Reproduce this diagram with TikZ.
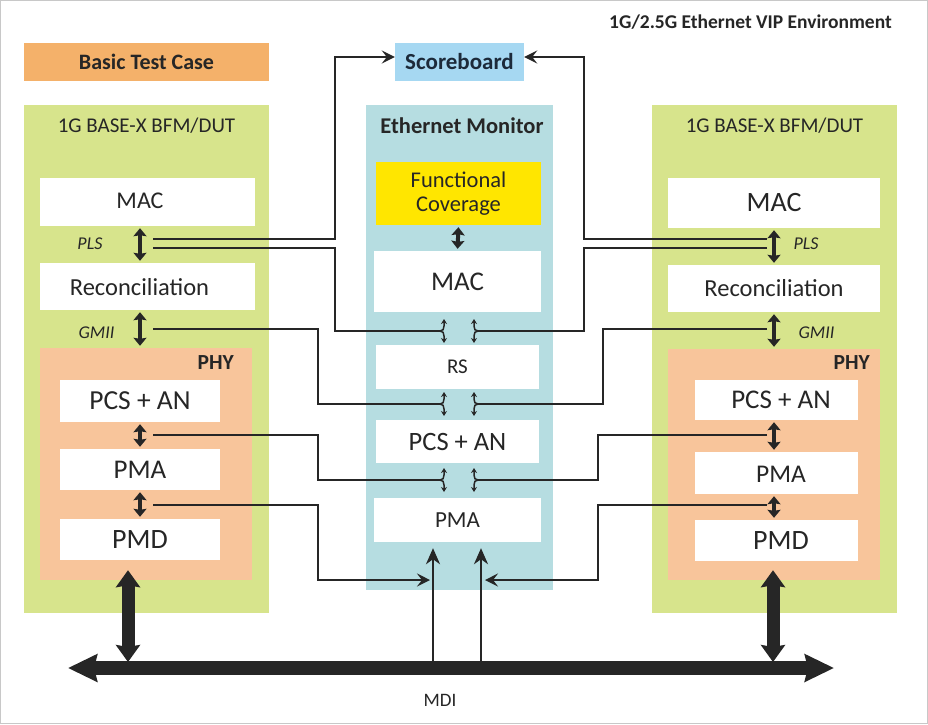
\documentclass[tikz,border=0pt]{standalone}
\usepackage{fontspec}
\setmainfont{Carlito}
\usepackage{xcolor}
\usetikzlibrary{arrows.meta,positioning}

\definecolor{ink}{RGB}{38,38,38}
\definecolor{navyink}{RGB}{28,42,58}
\definecolor{framegray}{RGB}{200,200,200}
\definecolor{bfmgreen}{RGB}{215,228,140}
\definecolor{phyorange}{RGB}{248,197,155}
\definecolor{testorange}{RGB}{244,177,106}
\definecolor{scoreblue}{RGB}{166,216,242}
\definecolor{monteal}{RGB}{182,221,225}
\definecolor{covyellow}{RGB}{255,230,0}

\newcommand{\pxfont}[1]{\fontsize{#1}{#1}\selectfont}

\tikzset{
  >=Stealth,
  panel/.style={inner sep=0pt, text=ink},
  block/.style={panel, fill=white},
  link/.style={draw=ink, line width=2pt},
  linkarrow/.style={link, -{Stealth[length=13pt,width=13pt,inset=5pt]}},
  feed/.style={draw=ink, line width=2pt, -{Stealth[length=16pt,width=14pt,inset=5pt]}},
  stack/.style={draw=ink, line width=4pt,
    {Stealth[length=8pt,width=13pt,inset=1pt]}-{Stealth[length=8pt,width=13pt,inset=1pt]},
    shorten <=2pt, shorten >=2pt},
  split/.style={draw=ink, line width=1.5pt, -{Stealth[length=5pt,width=6pt]}},
  phylink/.style={draw=ink, line width=13pt,
    {Stealth[length=17pt,width=24pt,inset=2pt]}-{Stealth[length=17pt,width=24pt,inset=2pt]}},
  bus/.style={draw=ink, line width=14pt,
    {Stealth[length=29pt,width=27pt,inset=3pt]}-{Stealth[length=29pt,width=27pt,inset=3pt]}},
  splitleft/.pic={
    \draw[split] (0,0) .. controls (3,0) and (4,-2) .. (4,-5) -- (4,-12);
    \draw[split] (0,0) .. controls (3,0) and (4,2) .. (4,5) -- (4,12);
  },
  splitright/.pic={
    \draw[split] (0,0) .. controls (-3,0) and (-4,-2) .. (-4,-5) -- (-4,-12);
    \draw[split] (0,0) .. controls (-3,0) and (-4,2) .. (-4,5) -- (-4,12);
  }
}

\begin{document}
\begin{tikzpicture}[x=1pt, y=-1pt]
  \useasboundingbox (0,0) rectangle (928,724);
  \draw[framegray, line width=1.2pt] (0.6,0.6) rectangle (927.4,723.4);

  \node[panel, anchor=east, font=\bfseries\pxfont{19.5}] (title) at (892,22) {1G/2.5G Ethernet VIP Environment};
  \node[panel, fill=testorange, minimum width=245pt, minimum height=38pt, font=\bfseries\pxfont{22}] (test) at (146.5,62) {Basic Test Case};
  \node[panel, fill=scoreblue, text=navyink, minimum width=129pt, minimum height=38pt, font=\bfseries\pxfont{23}] (score) at (459.5,62) {Scoreboard};

  % left BFM/DUT
  \node[panel, fill=bfmgreen, minimum width=245pt, minimum height=508pt] (lbfm) at (146.5,359) {};
  \node[panel, font=\pxfont{21}] (lbfmname) at (146.5,126) {1G BASE-X BFM/DUT};
  \node[block, minimum width=215pt, minimum height=48pt] (lmac) at (147.5,202) {};
  \node[panel, font=\pxfont{24}] (lmacname) at (140,201) {MAC};
  \node[block, minimum width=215pt, minimum height=47pt] (lrec) at (147.5,286.5) {};
  \node[panel, font=\pxfont{24.5}] (lrecname) at (139.5,287) {Reconciliation};
  \node[panel, fill=phyorange, minimum width=212pt, minimum height=232pt] (lphy) at (146,464) {};
  \node[panel, anchor=east, font=\bfseries\pxfont{21.5}] (lphyname) at (234,363) {PHY};
  \node[block, minimum width=160pt, minimum height=42pt, font=\pxfont{27.5}] (lpcs) at (140,401) {PCS + AN};
  \node[block, minimum width=160pt, minimum height=41pt, font=\pxfont{27}] (lpma) at (140,469.5) {PMA};
  \node[block, minimum width=160pt, minimum height=41pt, font=\pxfont{28}] (lpmd) at (140,539.5) {PMD};
  \node[panel, font=\itshape\pxfont{18}] (lpls) at (90,244) {PLS};
  \node[panel, font=\itshape\pxfont{18}] (lgmiiname) at (96.5,333) {GMII};

  % right BFM/DUT
  \node[panel, fill=bfmgreen, minimum width=245pt, minimum height=508pt] (rbfm) at (774.5,359) {};
  \node[panel, font=\pxfont{21}] (rbfmname) at (774.5,126) {1G BASE-X BFM/DUT};
  \node[block, minimum width=212pt, minimum height=50pt, font=\pxfont{28}] (rmac) at (774,203) {MAC};
  \node[block, minimum width=212pt, minimum height=47pt, font=\pxfont{24.5}] (rrec) at (774,288.5) {Reconciliation};
  \node[panel, fill=phyorange, minimum width=212pt, minimum height=231pt] (rphy) at (774,464.5) {};
  \node[panel, anchor=east, font=\bfseries\pxfont{21.5}] (rphyname) at (870,363) {PHY};
  \node[block, minimum width=163pt, minimum height=40pt] (rpcs) at (776.5,400) {};
  \node[panel, font=\pxfont{27}] (rpcsname) at (781,400) {PCS + AN};
  \node[block, minimum width=163pt, minimum height=42pt] (rpma) at (776.5,473) {};
  \node[panel, font=\pxfont{25.5}] (rpmaname) at (781,474) {PMA};
  \node[block, minimum width=163pt, minimum height=41pt] (rpmd) at (776.5,540.5) {};
  \node[panel, font=\pxfont{28}] (rpmdname) at (781,541) {PMD};
  \node[panel, font=\itshape\pxfont{18}] (rpls) at (806,244) {PLS};
  \node[panel, font=\itshape\pxfont{18}] (rgmiiname) at (816.5,333) {GMII};

  % monitor
  \node[panel, fill=monteal, minimum width=187pt, minimum height=485pt] (mon) at (459.5,347.5) {};
  \node[panel, font=\bfseries\pxfont{22.5}] (monname) at (462,126) {Ethernet Monitor};
  \node[block, fill=covyellow, minimum width=165pt, minimum height=63pt, align=center, font=\pxfont{22.5}] (mfc) at (458.5,193.5) {Functional\\[1pt]Coverage};
  \node[block, minimum width=167pt, minimum height=61pt, font=\pxfont{27}] (mmac) at (457.5,281.5) {MAC};
  \node[block, minimum width=163pt, minimum height=44pt, font=\pxfont{21}] (mrs) at (457.5,367) {RS};
  \node[block, minimum width=163pt, minimum height=43pt, font=\pxfont{26.5}] (mpcs) at (457.5,441.5) {PCS + AN};
  \node[block, minimum width=167pt, minimum height=44pt, font=\pxfont{23}] (mpma) at (457.5,520) {PMA};

  % layer arrows
  \draw[stack] (lmac.south -| lpcs) -- (lrec.north -| lpcs);
  \draw[stack] (lrec.south -| lpcs) -- (lphy.north -| lpcs);
  \draw[stack] (lpcs.south) -- (lpma.north);
  \draw[stack] (lpma.south) -- (lpmd.north);
  \draw[stack] (rmac.south) -- (rrec.north);
  \draw[stack] (rrec.south) -- (rphy.north -| rmac);
  \draw[stack] (rpcs.south -| rmac) -- (rpma.north -| rmac);
  \draw[stack] (rpma.south -| rmac) -- (rpmd.north -| rmac);
  \draw[stack] (mfc.south) -- (mmac.north);

  % taps
  \coordinate (lplsa) at (153,239);
  \coordinate (lplsb) at (153,248);
  \coordinate (lgmii) at (153,329);
  \coordinate (lpcsa) at (153,435);
  \coordinate (lpmaa) at (153,505);
  \coordinate (rplsa) at (767,239);
  \coordinate (rplsb) at (767,248);
  \coordinate (rgmii) at (767,329);
  \coordinate (rpcsa) at (767,435);
  \coordinate (rpmaa) at (767,505);
  \coordinate (fl1) at (440,331);
  \coordinate (fl2) at (440,404);
  \coordinate (fl3) at (440,480);
  \coordinate (fr1) at (478,331);
  \coordinate (fr2) at (478,404);
  \coordinate (fr3) at (478,480);
  \coordinate (lmdi) at (430,580);
  \coordinate (rmdi) at (485,580);

  \draw[linkarrow] (lplsa) -- (335,239) -- (335,57) -- ([yshift=5pt]score.west);
  \draw[link] (lplsb) -- (335,248) -- (335,331) -- (fl1);
  \draw[link] (lgmii) -- (318,329) -- (318,404) -- (fl2);
  \draw[link] (lpcsa) -- (318,435) -- (318,480) -- (fl3);
  \draw[linkarrow] (lpmaa) -- (318,505) -- (318,580) -- (lmdi);

  \draw[linkarrow] (rplsa) -- (584,239) -- (584,57) -- ([yshift=5pt]score.east);
  \draw[link] (rplsb) -- (584,248) -- (584,331) -- (fr1);
  \draw[link] (rgmii) -- (603,329) -- (603,404) -- (fr2);
  \draw[link] (rpcsa) -- (598,435) -- (598,480) -- (fr3);
  \draw[linkarrow] (rpmaa) -- (598,505) -- (598,580) -- (rmdi);

  \pic at (fl1) {splitleft};
  \pic at (fl2) {splitleft};
  \pic at (fl3) {splitleft};
  \pic at (fr1) {splitright};
  \pic at (fr2) {splitright};
  \pic at (fr3) {splitright};

  % MDI
  \coordinate (busl) at (68,668);
  \coordinate (busr) at (834,668);
  \coordinate (lphyb) at (128,662);
  \coordinate (rphyb) at (773,662);
  \coordinate (mdia) at (433,661);
  \coordinate (mdib) at (481,661);
  \draw[bus] (busl) -- (busr);
  \draw[phylink] (lphyb |- lpmd.south) ++(0,10) -- (lphyb);
  \draw[phylink] (rphyb |- rpmd.south) ++(0,9) -- (rphyb);
  \draw[feed, shorten >=6pt] (mdia) -- (mdia |- mpma.south);
  \draw[feed, shorten >=6pt] (mdib) -- (mdib |- mpma.south);
  \node[panel, font=\pxfont{19}] (mdi) at (440,700) {MDI};
\end{tikzpicture}
\end{document}
